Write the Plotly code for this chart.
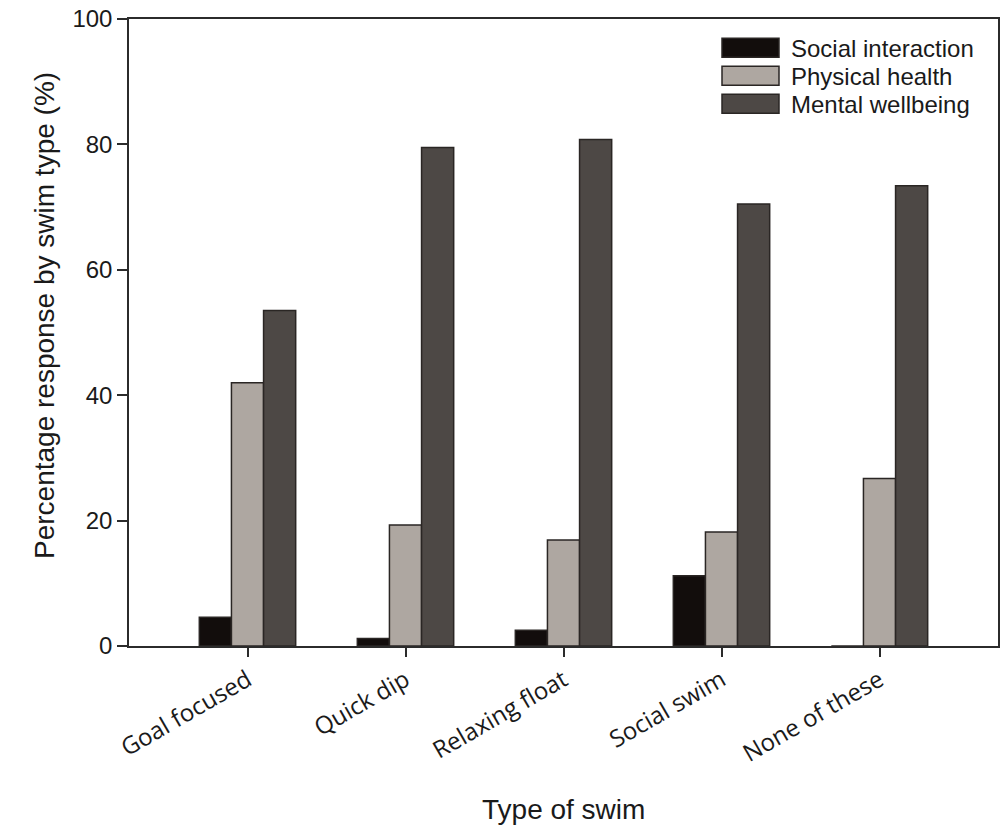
import plotly.graph_objects as go

categories = ["Goal focused", "Quick dip", "Relaxing float", "Social swim", "None of these"]
series_names = ["Social interaction", "Physical health", "Mental wellbeing"]
social_interaction = [4.6, 1.2, 2.5, 11.2, 0.0]
physical_health = [42.0, 19.3, 16.9, 18.2, 26.7]
mental_wellbeing = [53.5, 79.5, 80.8, 70.5, 73.4]
y_ticks = [0, 20, 40, 60, 80, 100]

series_values = [social_interaction, physical_health, mental_wellbeing]
colors = ["#120d0c", "#aea7a1", "#4d4845"]
outline = "#2a2624"
text_color = "#1a1a1a"

W, H = 1005, 830
plot_left, plot_right, plot_top, plot_bottom = 129, 998, 19, 646  # window px
ml, mt = plot_left, plot_top
mr, mb = W - plot_right, H - plot_bottom
pw, ph = plot_right - plot_left, plot_bottom - plot_top


def px(xw):
    return (xw - plot_left) / pw


def py(yw):
    return (plot_bottom - yw) / ph


fig = go.Figure()
for name, vals, col in zip(series_names, series_values, colors):
    fig.add_trace(go.Bar(
        name=name, x=categories, y=vals,
        marker=dict(color=col, line=dict(color=outline, width=1.5)),
        showlegend=False,
    ))

# manual legend (swatches + labels)
sw_x0, sw_x1 = 722, 779
row_centers = [47.8, 75.7, 103.7]
for name, col, yc in zip(series_names, colors, row_centers):
    fig.add_shape(type="rect", xref="paper", yref="paper",
                  x0=px(sw_x0), x1=px(sw_x1),
                  y0=py(yc - 9.5), y1=py(yc + 9.5),
                  fillcolor=col, line=dict(color=outline, width=1.5))
    fig.add_annotation(xref="paper", yref="paper",
                       x=px(789), y=py(yc + 1),
                       xanchor="left", yanchor="middle", showarrow=False,
                       text=name, font=dict(family="Liberation Sans, Arial", size=24, color=text_color))

# axis titles
fig.add_annotation(xref="paper", yref="paper", x=px(563.5), y=py(810),
                   xanchor="center", yanchor="middle", showarrow=False,
                   text="Type of swim",
                   font=dict(family="Liberation Sans, Arial", size=28, color=text_color))
fig.add_annotation(xref="paper", yref="paper", x=px(44), y=py(316),
                   xanchor="center", yanchor="middle", showarrow=False, textangle=-90,
                   text="Percentage response by swim type (%)",
                   font=dict(family="Liberation Sans, Arial", size=28, color=text_color))

fig.update_layout(
    template="none",
    width=W, height=H,
    margin=dict(l=ml, r=mr, t=mt, b=mb, pad=0),
    paper_bgcolor="white", plot_bgcolor="white",
    barmode="group", bargap=0.39, bargroupgap=0,
    showlegend=False,
)
fig.update_xaxes(
    automargin=False,
    range=[-0.75, 4.75], showgrid=False, zeroline=False,
    showline=True, linecolor="#2b2b2b", linewidth=1.5, mirror=True,
    ticks="outside", ticklen=9, tickwidth=1.5, tickcolor="#2b2b2b",
    tickangle=-30, ticklabeloverflow="allow",
    tickfont=dict(family="Open Sans", size=24, color=text_color),
)
fig.update_yaxes(
    automargin=False,
    range=[0, 100], tickvals=y_ticks, showgrid=False, zeroline=False,
    showline=True, linecolor="#2b2b2b", linewidth=1.5, mirror=True,
    ticks="outside", ticklen=10, tickwidth=1.5, tickcolor="#2b2b2b",
    ticklabeloverflow="allow",
    tickfont=dict(family="Liberation Sans, Arial", size=24, color=text_color),
)

# remove the default 8px page margin so the figure fills the window exactly
fig.write_html("out.html",
               config={"displayModeBar": False},
               post_script="document.body.style.margin='0';document.body.style.overflow='hidden';")
